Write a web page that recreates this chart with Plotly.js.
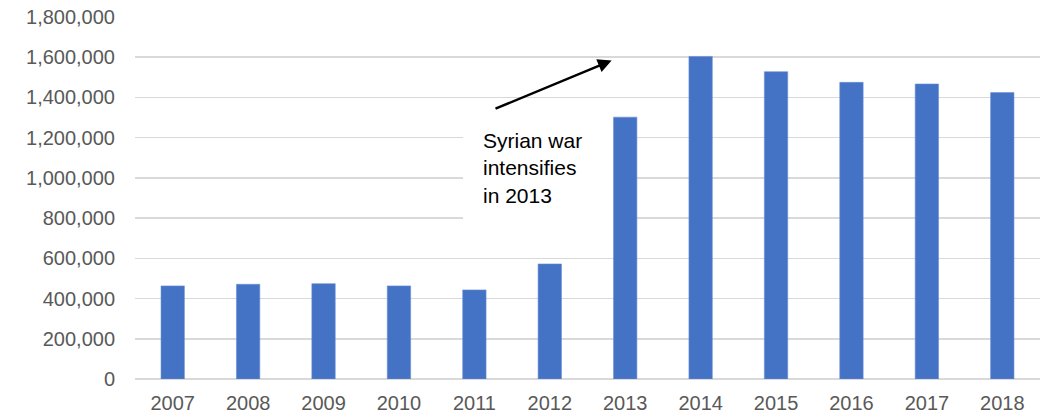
<!DOCTYPE html>
<html>
<head>
<meta charset="utf-8">
<script src="https://cdn.plot.ly/plotly-3.0.1.min.js"></script>
<style>html,body{margin:0;padding:0;background:#fff;}#chart{width:1042px;height:415px;}</style>
</head>
<body>
<div id="chart"></div>
<script>
const years = ['2007','2008','2009','2010','2011','2012','2013','2014','2015','2016','2017','2018'];
const values = [463000, 471000, 474000, 463000, 443000, 572000, 1302000, 1604000, 1528000, 1475000, 1467000, 1424000];
const tickValues = [0, 200000, 400000, 600000, 800000, 1000000, 1200000, 1400000, 1600000, 1800000];
const noteText = 'Syrian war<br>intensifies<br>in 2013';

const font = 'Liberation Sans, Arial, sans-serif';
const trace = {
  type: 'bar',
  x: years,
  y: values,
  marker: {color: '#4472C4', line: {color: '#6a8fd6', width: 0.6}},
  hoverinfo: 'x+y'
};
const layout = {
  width: 1042, height: 415,
  margin: {l: 135, r: 2, t: 17, b: 36},
  paper_bgcolor: '#fff', plot_bgcolor: '#fff',
  bargap: 0.69,
  showlegend: false,
  font: {family: font, size: 20, color: '#595959'},
  xaxis: {
    type: 'category',
    showgrid: false, zeroline: false, showline: false,
    ticks: 'outside', ticklen: 6, tickcolor: 'rgba(0,0,0,0)',
    tickfont: {family: font, size: 20, color: '#595959'}
  },
  yaxis: {
    range: [0, 1800000],
    tickvals: tickValues,
    tickformat: ',d',
    showgrid: true, gridcolor: '#d9d9d9', gridwidth: 1.5,
    zeroline: true, zerolinecolor: '#d9d9d9', zerolinewidth: 1.5,
    showline: false,
    ticks: 'outside', ticklen: 15, tickcolor: 'rgba(0,0,0,0)',
    tickfont: {family: font, size: 20, color: '#595959'}
  },
  shapes: [{
    type: 'rect', layer: 'between',
    xref: 'x', yref: 'y',
    x0: 3.85, x1: 5.86, y0: 720000, y1: 1340000,
    fillcolor: '#ffffff', line: {width: 0}
  }],
  annotations: [
    {
      xref: 'x', yref: 'y', x: 4.09, y: 1049000,
      xanchor: 'left', yanchor: 'middle', align: 'left',
      text: noteText, showarrow: false,
      font: {family: font, size: 21, color: '#000000'}
    },
    {
      xref: 'x', yref: 'y', axref: 'x', ayref: 'y',
      x: 5.82, y: 1584000, ax: 4.26, ay: 1341000,
      text: '', showarrow: true,
      arrowhead: 2, arrowsize: 1.1, arrowwidth: 2.5, arrowcolor: '#000000',
      standoff: 0, startstandoff: 0
    }
  ]
};
Plotly.newPlot('chart', [trace], layout, {displayModeBar: false, staticPlot: true});
</script>
</body>
</html>
